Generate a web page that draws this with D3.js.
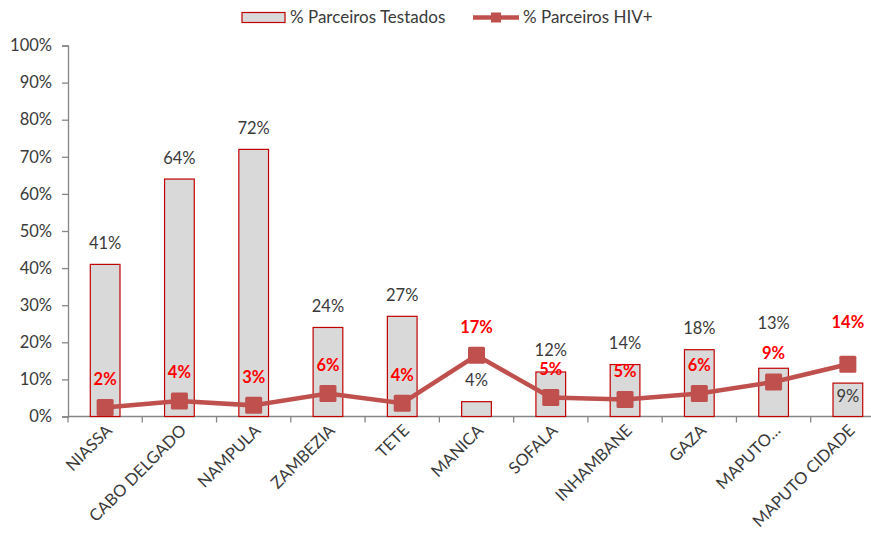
<!DOCTYPE html>
<html lang="en">
<head>
<script src="https://d3js.org/d3.v7.min.js"></script>
<style>
  body { margin: 0; background: #fff; }
  text { font-family: Lato, "Open Sans", sans-serif; }
</style>
</head>
<body>
<script>
  var width = 871;
  var height = 534;

  // provinces and the two series (percent)
  var provinces = ["NIASSA", "CABO DELGADO", "NAMPULA", "ZAMBEZIA", "TETE", "MANICA",
                   "SOFALA", "INHAMBANE", "GAZA", "MAPUTO PROVINCIA", "MAPUTO CIDADE"];
  var axisNames = ["NIASSA", "CABO DELGADO", "NAMPULA", "ZAMBEZIA", "TETE", "MANICA",
                   "SOFALA", "INHAMBANE", "GAZA", "MAPUTO…", "MAPUTO CIDADE"];
  var testados = [41, 64, 72, 24, 27, 4, 12, 14, 18, 13, 9];
  var hivPos = [2.4, 4.2, 3.0, 6.2, 3.6, 16.5, 5.1, 4.6, 6.2, 9.3, 14.1];
  var yTicks = [0, 10, 20, 30, 40, 50, 60, 70, 80, 90, 100];
  var seriesNames = ["% Parceiros Testados", "% Parceiros HIV+"];

  var barFill = "#d9d9d9", barStroke = "#c00000", lineColor = "#c0504d", labelRed = "#ff0000";
  var textColor = "#3a3a3a";

  var svg = d3.select("body").append("svg")
              .attr("width", width)
              .attr("height", height);

  var x = d3.scaleBand().domain(provinces).range([68, 885]).paddingInner(0).paddingOuter(0);
  var y = d3.scaleLinear().domain([0, 100]).range([416.5, 45.5]);
  var bw = x.bandwidth() * 0.4;

  // y axis
  var yAxis = svg.append("g").attr("transform", "translate(68,0)")
    .call(d3.axisLeft(y).tickValues(yTicks).tickSize(6).tickFormat(function (d) { return d + "%"; }));
  yAxis.select(".domain").attr("stroke", "#868686").attr("stroke-width", 1.3);
  yAxis.selectAll(".tick line").attr("stroke", "#868686").attr("stroke-width", 1.3);
  yAxis.selectAll(".tick text").attr("x", -16).attr("font-size", 16.5).attr("fill", textColor)
       .style("font-family", "Lato, sans-serif");

  // x axis with ticks between categories
  var xAxis = svg.append("g").attr("transform", "translate(0,416.5)");
  xAxis.append("line").attr("x1", 68).attr("x2", 885).attr("stroke", "#868686").attr("stroke-width", 1.3);
  xAxis.selectAll(".xt").data(provinces).enter().append("line")
    .attr("x1", function (d) { return x(d); }).attr("x2", function (d) { return x(d); })
    .attr("y1", 0).attr("y2", 6).attr("stroke", "#868686").attr("stroke-width", 1.3);
  xAxis.selectAll(".xl").data(provinces).enter().append("text")
    .attr("transform", function (d) {
      return "translate(" + (x(d) + x.bandwidth() / 2 + 8) + ",15) rotate(-45)";
    })
    .attr("text-anchor", "end").attr("font-size", 16.5).attr("fill", textColor)
    .text(function (d, i) { return axisNames[i]; });

  // bars
  svg.selectAll(".bar").data(testados).enter().append("rect")
    .attr("x", function (d, i) { return x(provinces[i]) + (x.bandwidth() - bw) / 2; })
    .attr("y", function (d) { return y(d); })
    .attr("width", bw)
    .attr("height", function (d) { return y(0) - y(d); })
    .attr("fill", barFill).attr("stroke", barStroke).attr("stroke-width", 1.2);

  var cx = function (i) { return x(provinces[i]) + x.bandwidth() / 2; };

  // line
  var line = d3.line().x(function (d, i) { return cx(i); }).y(function (d) { return y(d); });
  svg.append("path").datum(hivPos).attr("d", line)
    .attr("fill", "none").attr("stroke", lineColor).attr("stroke-width", 4.5);
  svg.selectAll(".mk").data(hivPos).enter().append("rect")
    .attr("x", function (d, i) { return cx(i) - 8.5; })
    .attr("y", function (d) { return y(d) - 8.5; })
    .attr("width", 17).attr("height", 17).attr("rx", 1.5)
    .attr("fill", lineColor);

  // line label centres (last one pushed higher, as in the original)
  var lineLabelY = hivPos.map(function (d, i) {
    return y(d) - 28 - (i === hivPos.length - 1 ? 14 : 0);
  });

  // bar labels: above the bar; inside if the marker is in the way,
  // raised above the red label if they would collide
  svg.selectAll(".bl").data(testados).enter().append("text")
    .attr("x", function (d, i) { return cx(i); })
    .attr("y", function (d, i) {
      var c = y(d) - 21;
      if (Math.abs(c - y(hivPos[i])) < 16) c = y(d) + 13;
      else if (Math.abs(c - lineLabelY[i]) < 16) c = lineLabelY[i] - 30;
      return c + 5.5;
    })
    .attr("text-anchor", "middle").attr("font-size", 16.5).attr("fill", textColor)
    .text(function (d) { return d + "%"; });

  // line labels
  svg.selectAll(".ll").data(hivPos).enter().append("text")
    .attr("x", function (d, i) { return cx(i); })
    .attr("y", function (d, i) { return lineLabelY[i] + 5.5; })
    .attr("text-anchor", "middle").attr("font-size", 16.5).attr("font-weight", "bold").attr("fill", labelRed)
    .text(function (d) { return Math.round(d) + "%"; });

  // legend
  var lg = svg.append("g");
  lg.append("rect").attr("x", 242).attr("y", 12.5).attr("width", 43).attr("height", 10)
    .attr("fill", barFill).attr("stroke", barStroke).attr("stroke-width", 1.2);
  lg.append("text").attr("x", 290).attr("y", 23).attr("font-size", 17).attr("fill", textColor).text(seriesNames[0]);
  lg.append("line").attr("x1", 473).attr("x2", 519).attr("y1", 17.5).attr("y2", 17.5)
    .attr("stroke", lineColor).attr("stroke-width", 4.5);
  lg.append("rect").attr("x", 491).attr("y", 12.5).attr("width", 10).attr("height", 10).attr("fill", lineColor);
  lg.append("text").attr("x", 523).attr("y", 23).attr("font-size", 17).attr("fill", textColor).text(seriesNames[1]);
</script>
</body>
</html>
